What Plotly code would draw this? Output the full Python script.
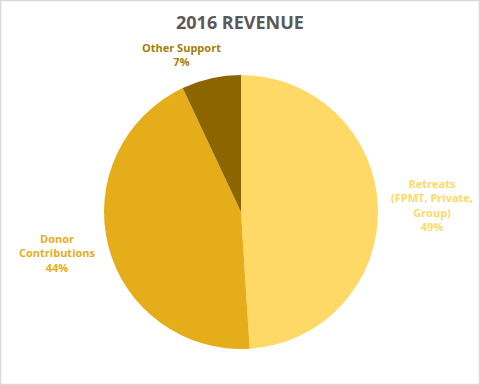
import plotly.graph_objects as go

categories = ["Retreats (FPMT, Private, Group)", "Donor Contributions", "Other Support"]
values = [49, 44, 7]
label_texts = ["Retreats<br>(FPMT, Private,<br>Group)<br>49%", "Donor<br>Contributions<br>44%", "Other Support<br>7%"]
slice_colors = ["#FFD966", "#E4AD19", "#8C6500"]
label_colors = ["#FFD966", "#E4AD19", "#A57D0C"]

W, H = 480, 385
fig = go.Figure()
fig.add_trace(go.Pie(
    labels=categories, values=values, sort=False, direction="clockwise", rotation=0,
    marker=dict(colors=slice_colors, line=dict(width=0)),
    textinfo="none", hoverinfo="label+percent", showlegend=False,
    domain=dict(x=[104/W, 378/W], y=[1-349/H, 1-75/H]),
))

# label anchor positions in pixels (center x, center y)
label_pos = [(432, 205), (57, 253), (181, 55)]
for txt, col, (px, py) in zip(label_texts, label_colors, label_pos):
    fig.add_annotation(x=px/W, y=1-py/H, xref="paper", yref="paper", text="<b>"+txt+"</b>",
                       showarrow=False, align="center", xanchor="center", yanchor="middle",
                       font=dict(family="Open Sans, sans-serif", size=11, color=col))

fig.add_annotation(x=0.5, y=1-22/H, xref="paper", yref="paper", text="<b>2016 REVENUE</b>",
                   showarrow=False, xanchor="center", yanchor="middle",
                   font=dict(family="Open Sans, sans-serif", size=18, color="#595959"))

fig.add_shape(type="rect", xref="paper", yref="paper", x0=0.5/W, x1=1-0.5/W, y0=0.5/H, y1=1-0.5/H,
              line=dict(color="#D9D9D9", width=1.5))

fig.update_layout(width=W, height=H, margin=dict(l=0, r=0, t=0, b=0),
                  paper_bgcolor="white", plot_bgcolor="white")
fig.write_html("out.html", config={"displayModeBar": False},
               post_script="document.body.style.margin='0';document.body.style.overflow='hidden';")
